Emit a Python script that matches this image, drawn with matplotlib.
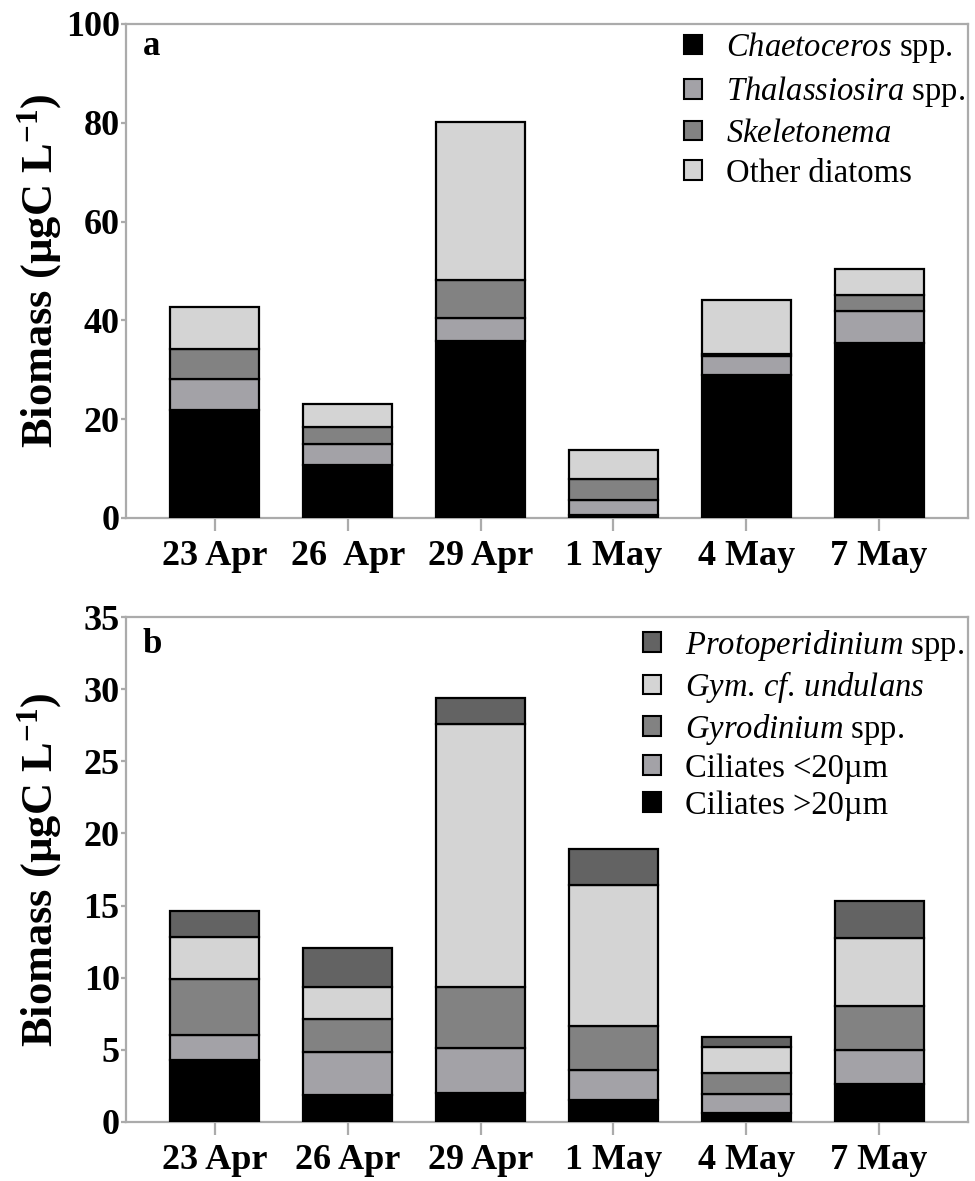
import matplotlib
matplotlib.use("Agg")
import matplotlib.pyplot as plt
from matplotlib.patches import Patch
import numpy as np

plt.rcParams['font.family'] = ['Liberation Serif', 'DejaVu Serif']
plt.rcParams['mathtext.fontset'] = 'custom'
plt.rcParams['mathtext.rm'] = 'Liberation Serif'
plt.rcParams['mathtext.it'] = 'Liberation Serif:italic'
plt.rcParams['mathtext.bf'] = 'Liberation Serif:bold'

# ---------------- data ----------------
dates_a = ["23 Apr", "26  Apr", "29 Apr", "1 May", "4 May", "7 May"]
dates_b = ["23 Apr", "26 Apr", "29 Apr", "1 May", "4 May", "7 May"]

chaetoceros = [21.8, 10.8, 35.9, 0.6, 29.0, 35.4]
thalassiosira = [6.3, 4.2, 4.5, 3.1, 3.7, 6.6]
skeletonema = [6.2, 3.5, 7.8, 4.2, 0.5, 3.1]
other_diatoms = [8.4, 4.6, 32.0, 5.9, 11.0, 5.3]

ciliates_gt20 = [4.28, 1.90, 2.01, 1.50, 0.65, 2.66]
ciliates_lt20 = [1.72, 2.96, 3.15, 2.09, 1.32, 2.32]
gyrodinium = [3.88, 2.27, 4.17, 3.05, 1.46, 3.05]
gym_undulans = [2.96, 2.24, 18.25, 9.76, 1.77, 4.70]
protoperidinium = [1.78, 2.66, 1.80, 2.50, 0.70, 2.61]

labels_a = [r"$\mathit{Chaetoceros}$ spp.", r"$\mathit{Thalassiosira}$ spp.",
            r"$\mathit{Skeletonema}$", "Other diatoms"]
labels_b = [r"$\mathit{Protoperidinium}$ spp.", r"$\mathit{Gym.\,cf.\,undulans}$",
            r"$\mathit{Gyrodinium}$ spp.", "Ciliates <20µm", "Ciliates >20µm"]

BLACK = "#000000"
MIDLIGHT = "#a3a2a7"
MID = "#828282"
LIGHT = "#d4d4d4"
DARK = "#636363"
SPINE = "#ababab"

W, H = 975, 1181
fig = plt.figure(figsize=(W / 100, H / 100), dpi=100)
left, right = 126 / W, 968 / W
ax_a = fig.add_axes([left, 1 - 518 / H, right - left, (518 - 24) / H])
ax_b = fig.add_axes([left, 1 - 1122 / H, right - left, (1122 - 617) / H])

bar_w = 0.67
tickfs = 26
legfs = 23.5


def style(ax, ymax, ystep, xlabels):
    ax.set_xlim(-0.67, 5.67)
    ax.set_ylim(0, ymax)
    ax.set_yticks(np.arange(0, ymax + 0.1, ystep))
    ax.set_xticks(range(len(xlabels)))
    ax.set_xticklabels(xlabels)
    for s in ax.spines.values():
        s.set_color(SPINE)
        s.set_linewidth(1.6)
    ax.tick_params(axis='x', direction='out', length=9.5, width=1.6, color=SPINE,
                   pad=6, labelsize=tickfs)
    ax.tick_params(axis='y', direction='out', length=3.5, width=1.6, color=SPINE,
                   pad=1, labelsize=tickfs)
    for lab in ax.get_xticklabels() + ax.get_yticklabels():
        lab.set_fontweight('bold')
    ax.set_ylabel(r"Biomass (µgC $\mathbf{L^{-1}}$)", fontsize=32, fontweight='bold')
    ax.yaxis.set_label_coords(-0.074, 0.5)


def stack(ax, series, colors):
    x = np.arange(len(series[0]))
    bottom = np.zeros(len(x))
    for vals, c in zip(series, colors):
        ax.bar(x, vals, bar_w, bottom=bottom, color=c, edgecolor='black',
               linewidth=1.6, zorder=3)
        bottom = bottom + np.array(vals)


# Panel a
stack(ax_a, [chaetoceros, thalassiosira, skeletonema, other_diatoms],
      [BLACK, MIDLIGHT, MID, LIGHT])
style(ax_a, 100, 20, dates_a)
ax_a.text(0.02, 0.988, "a", transform=ax_a.transAxes, fontsize=25, fontweight='bold',
          va='top', ha='left')
handles_a = [Patch(facecolor=c, edgecolor='black', linewidth=1.5)
             for c in [BLACK, MIDLIGHT, MID, LIGHT]]
ax_a.legend(handles_a, labels_a, loc='upper left', bbox_to_anchor=(0.647, 1.014),
            frameon=False, fontsize=legfs, handlelength=0.55, handleheight=0.55,
            handletextpad=0.75, labelspacing=0.28, borderaxespad=0)

# Panel b
stack(ax_b, [ciliates_gt20, ciliates_lt20, gyrodinium, gym_undulans, protoperidinium],
      [BLACK, MIDLIGHT, MID, LIGHT, DARK])
style(ax_b, 35, 5, dates_b)
ax_b.text(0.02, 0.978, "b", transform=ax_b.transAxes, fontsize=25, fontweight='bold',
          va='top', ha='left')
handles_b = [Patch(facecolor=c, edgecolor='black', linewidth=1.5)
             for c in [DARK, LIGHT, MID, MIDLIGHT, BLACK]]
ax_b.legend(handles_b, labels_b, loc='upper left', bbox_to_anchor=(0.598, 1.005),
            frameon=False, fontsize=legfs, handlelength=0.55, handleheight=0.55,
            handletextpad=0.75, labelspacing=0.2, borderaxespad=0)

fig.savefig("out.png", dpi=100)
